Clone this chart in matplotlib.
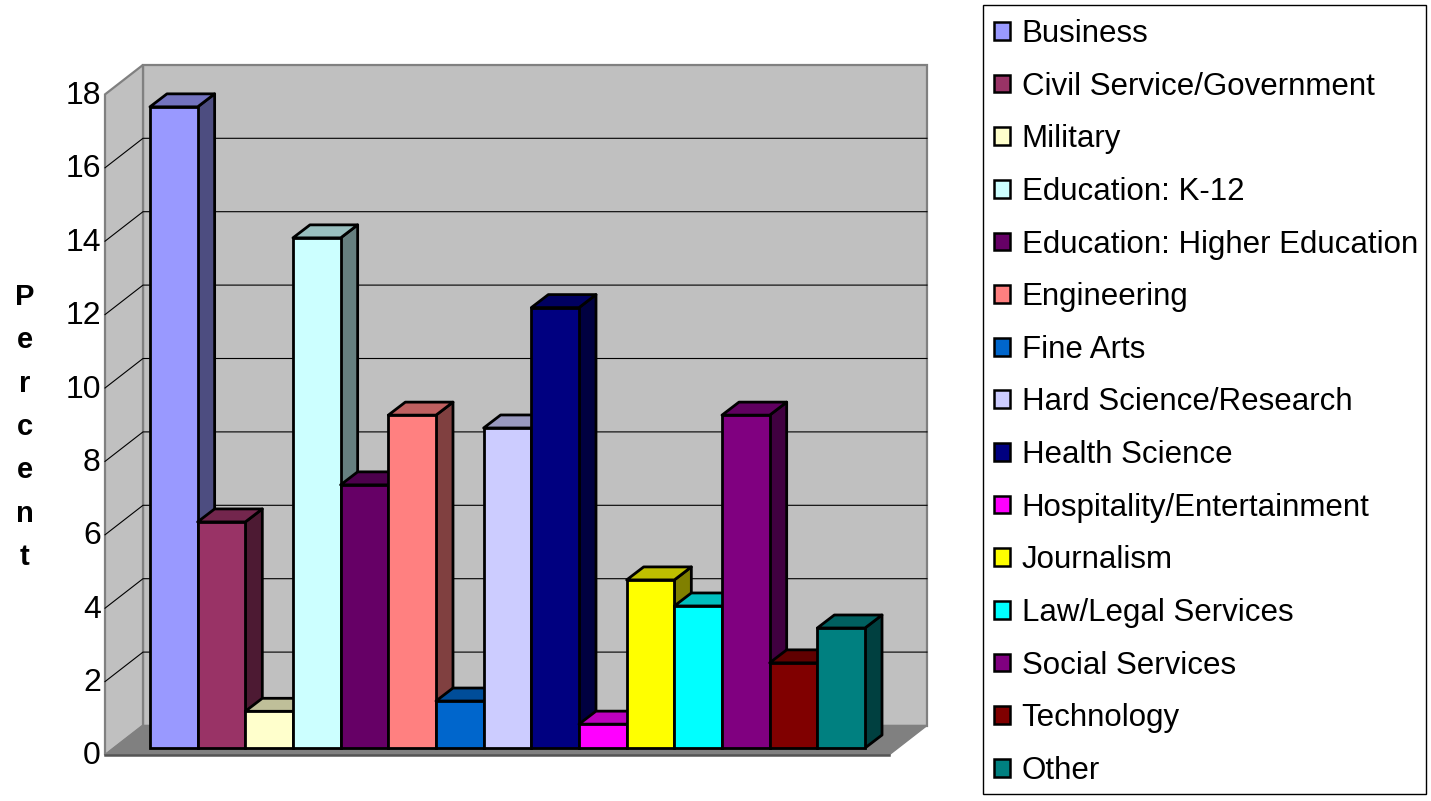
import matplotlib
matplotlib.use("Agg")
import matplotlib.pyplot as plt
from matplotlib.colors import to_rgb
from matplotlib.patches import Rectangle
from matplotlib.transforms import Affine2D

plt.rcParams['font.family'] = ['Liberation Sans', 'DejaVu Sans']

categories = ["Business", "Civil Service/Government", "Military", "Education: K-12",
              "Education: Higher Education", "Engineering", "Fine Arts",
              "Hard Science/Research", "Health Science", "Hospitality/Entertainment",
              "Journalism", "Law/Legal Services", "Social Services", "Technology", "Other"]
percent = [17.47, 6.16, 1.0, 13.9, 7.17, 9.07, 1.28, 8.72, 12.0, 0.65, 4.58, 3.87, 9.07, 2.32, 3.27]
colors = ["#9999FF", "#993366", "#FFFFCC", "#CCFFFF", "#660066", "#FF8080", "#0066CC", "#CCCCFF",
          "#000080", "#FF00FF", "#FFFF00", "#00FFFF", "#800080", "#800000", "#008080"]
y_ticks = [0, 2, 4, 6, 8, 10, 12, 14, 16, 18]

W, H = 1431, 801
fig = plt.figure(figsize=(W / 100, H / 100), dpi=100)
ax = fig.add_axes([105 / W, 1 - 755 / H, 784 / W, 660.6 / H])

x_unit = 47.67  # px per bar
y_unit = 36.7   # px per percent
ax.set_xlim((105 - 173.8) / x_unit, (889 - 173.8) / x_unit)
ax.set_ylim(0, 18)

# depth of the fake 3d box and of the bars, in data units
wall_dx, wall_dy = 38 / x_unit, 29.5 / y_unit
bar_dx, bar_dy = 17 / x_unit, 13 / y_unit
base = 7 / y_unit
edge = 2.0

x0, x1 = ax.get_xlim()
wall_gray = "#808080"

# walls and floor
ax.fill([x0 + wall_dx, x1 + wall_dx, x1 + wall_dx, x0 + wall_dx],
        [wall_dy, wall_dy, 18 + wall_dy, 18 + wall_dy],
        facecolor="#C0C0C0", edgecolor=wall_gray, lw=1.6, clip_on=False, zorder=1)
ax.fill([x0, x0 + wall_dx, x0 + wall_dx, x0],
        [0, wall_dy, 18 + wall_dy, 18],
        facecolor="#C0C0C0", edgecolor=wall_gray, lw=1.6, clip_on=False, zorder=1)
ax.fill([x0, x1, x1 + wall_dx, x0 + wall_dx],
        [0, 0, wall_dy, wall_dy],
        facecolor=wall_gray, edgecolor=wall_gray, lw=1, clip_on=False, zorder=2)
ax.plot([x0, x1], [0, 0], color="#555555", lw=1.8, clip_on=False, zorder=2)

# gridlines on left wall and back wall
for t in y_ticks[1:-1]:
    ax.plot([x0, x0 + wall_dx, x1 + wall_dx], [t, t + wall_dy, t + wall_dy],
            color="black", lw=0.8, clip_on=False, zorder=2)

# bars, painted left to right so each front hides the previous side
for i, (v, c) in enumerate(zip(percent, colors)):
    rgb = to_rgb(c)
    dark = tuple(k * 0.5 for k in rgb)
    mid = tuple(k * 0.75 for k in rgb)
    left, right = i - 0.5, i + 0.5
    z = 3 + i
    ax.fill([right, right + bar_dx, right + bar_dx, right],
            [base, base + bar_dy, base + v + bar_dy, base + v],
            facecolor=dark, edgecolor="black", lw=edge, joinstyle="round", clip_on=False, zorder=z)
    ax.fill([left, right, right + bar_dx, left + bar_dx],
            [base + v, base + v, base + v + bar_dy, base + v + bar_dy],
            facecolor=mid, edgecolor="black", lw=edge, joinstyle="round", clip_on=False, zorder=z)
    ax.bar(i, v, width=1, bottom=base, color=c, edgecolor="black", lw=edge,
           label=categories[i], clip_on=False, zorder=z)

for s in ax.spines.values():
    s.set_visible(False)
ax.patch.set_visible(False)
ax.set_xticks([])
ax.set_yticks(y_ticks)
ax.tick_params(axis="y", length=0, pad=3, labelsize=23)
for lab in ax.get_yticklabels():
    lab.set_verticalalignment("center_baseline")
    lab.set_transform(lab.get_transform() + Affine2D().translate(0, 2))

ax.set_ylabel("P\ne\nr\nc\ne\nn\nt", rotation=0, fontsize=21, fontweight="bold",
              linespacing=1.70, va="center", ha="center")
ax.yaxis.set_label_coords((25 - 105) / 784, (755 - 427) / 660.6)

# legend box is a separate rectangle so the frame size can be set exactly
fig.add_artist(Rectangle((982.5 / W, 1 - 793.5 / H), 443 / W, 789 / H, transform=fig.transFigure,
                         facecolor="white", edgecolor="black", lw=1.0, zorder=-1))
leg = ax.legend(loc="upper left", bbox_to_anchor=(994 / W, 1 - 19 / H), bbox_transform=fig.transFigure,
                fontsize=22.5, frameon=False,
                handlelength=0.5, handleheight=0.5, handletextpad=0.38,
                labelspacing=0.724, borderaxespad=0, borderpad=0)
leg.set_zorder(30)
for h in leg.legend_handles:
    h.set_linewidth(1.8)

fig.savefig("out.png", dpi=100)
